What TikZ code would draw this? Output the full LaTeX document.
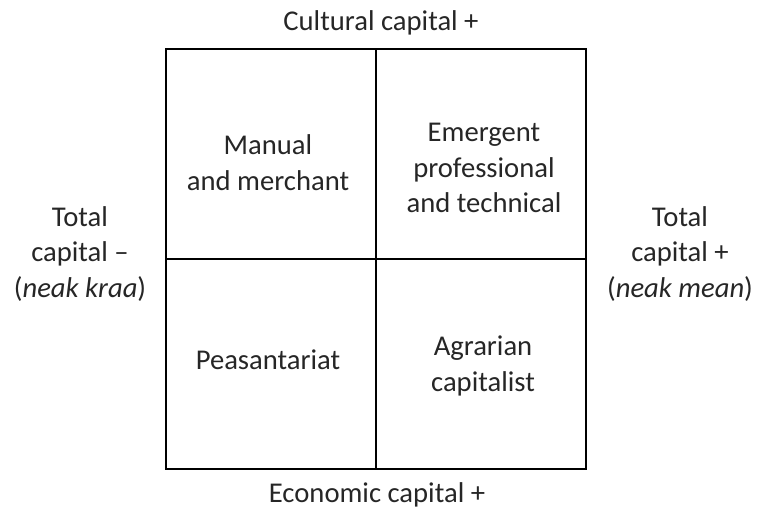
\documentclass[tikz,border=0pt]{standalone}
\usepackage{fontspec}
\setmainfont{Carlito}
\begin{document}
\begin{tikzpicture}[x=0.02cm, y=-0.02cm,
    label/.style={align=center, font=\fontsize{16.3}{20.4}\selectfont, text=black!85}]
        \useasboundingbox (0,0) rectangle (759,511);

        \draw[line width=1.1pt] (166,49) rectangle (586,469);
        \draw[line width=0.6pt] (376,49) -- (376,469);
        \draw[line width=0.6pt] (166,259) -- (586,259);

        \node[label] (top) at (381, 23) {Cultural capital +};
        \node[label] (bottom) at (377, 495) {Economic capital +};
        \node[label] (left) at (80, 254) {Total\\capital --\\(\textit{neak kraa})};
        \node[label] (right) at (680, 254) {Total\\capital +\\(\textit{neak mean})};
        \node[label] (manual) at (268, 163) {Manual\\and merchant};
        \node[label] (emergent) at (484, 168) {Emergent\\professional\\and technical};
        \node[label] (peasant) at (268, 360) {Peasantariat};
        \node[label] (agrarian) at (483, 366) {Agrarian\\capitalist};

    \end{tikzpicture}
\end{document}
